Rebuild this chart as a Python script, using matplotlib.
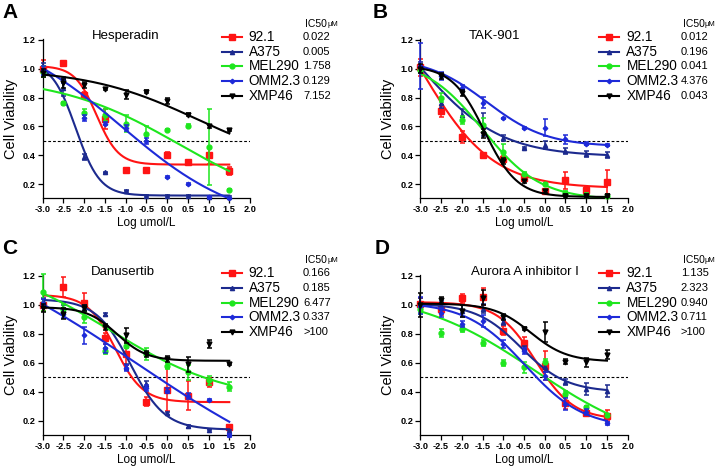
import numpy as np
import matplotlib
matplotlib.use('Agg')
import matplotlib.pyplot as plt

plt.rcParams['font.family'] = ['Liberation Sans', 'DejaVu Sans']

# log concentration (umol/L)
log_dose = [-3.0, -2.5, -2.0, -1.5, -1.0, -0.5, 0.0, 0.5, 1.0, 1.5]
cell_lines = ['92.1', 'A375', 'MEL290', 'OMM2.3', 'XMP46']

# --- Hesperadin ---
hesp_mean = [
    [1.00, 1.04, 0.82, 0.65, 0.30, 0.30, 0.40, 0.35, 0.40, 0.29],
    [1.00, 0.87, 0.385, 0.28, 0.155, 0.12, 0.12, 0.12, 0.11, 0.11],
    [0.98, 0.76, 0.69, 0.68, 0.62, 0.55, 0.575, 0.605, 0.455, 0.16],
    [0.99, 0.92, 0.66, 0.62, 0.59, 0.50, 0.25, 0.20, 0.11, 0.10],
    [0.97, 0.90, 0.89, 0.86, 0.82, 0.84, 0.775, 0.68, 0.60, 0.575],
]
hesp_sd = [
    [0.06, 0.01, 0.02, 0.07, 0.01, 0.01, 0.02, 0.01, 0.06, 0.03],
    [0.04, 0.06, 0.02, 0.005, 0.005, 0.005, 0.005, 0.005, 0.005, 0.005],
    [0.04, 0.01, 0.03, 0.04, 0.06, 0.05, 0.01, 0.01, 0.265, 0.005],
    [0.03, 0.02, 0.02, 0.01, 0.02, 0.02, 0.005, 0.01, 0.005, 0.005],
    [0.03, 0.03, 0.02, 0.01, 0.03, 0.01, 0.02, 0.01, 0.01, 0.01],
]
# top, bottom, logIC50, hill
hesp_fit = [
    [1.02, 0.335, -1.70, 1.65],
    [1.05, 0.12, -2.20, 1.5],
    [0.95, 0.0, 0.296, 0.297],
    [1.30, -0.10, -1.10, 0.30],
    [1.00, 0.30, 0.725, 0.327],
]
hesp_ic50 = ['0.022', '0.005', '1.758', '0.129', '7.152']

# --- TAK-901 ---
tak_mean = [
    [1.01, 0.705, 0.525, 0.40, 0.375, 0.24, 0.155, 0.225, 0.16, 0.215],
    [1.01, 0.76, 0.68, 0.61, 0.52, 0.45, 0.47, 0.43, 0.41, 0.40],
    [0.995, 0.80, 0.645, 0.61, 0.425, 0.27, 0.20, 0.14, 0.125, 0.115],
    [1.02, 0.95, 0.87, 0.765, 0.655, 0.59, 0.59, 0.51, 0.48, 0.47],
    [1.00, 0.95, 0.83, 0.55, 0.36, 0.22, 0.15, 0.12, 0.12, 0.12],
]
tak_sd = [
    [0.06, 0.04, 0.04, 0.005, 0.02, 0.02, 0.005, 0.06, 0.02, 0.085],
    [0.04, 0.03, 0.04, 0.08, 0.02, 0.01, 0.03, 0.02, 0.02, 0.02],
    [0.02, 0.03, 0.03, 0.05, 0.05, 0.01, 0.01, 0.01, 0.01, 0.01],
    [0.16, 0.03, 0.02, 0.04, 0.005, 0.005, 0.06, 0.03, 0.01, 0.005],
    [0.03, 0.02, 0.02, 0.03, 0.02, 0.01, 0.01, 0.01, 0.01, 0.01],
]
tak_fit = [
    [1.83, 0.17, -3.0, 0.5],
    [1.63, 0.39, -3.0, 0.45],
    [1.07, 0.09, -1.5, 0.62],
    [1.08, 0.46, -1.4, 0.6],
    [1.02, 0.11, -1.45, 1.1],
]
tak_ic50 = ['0.012', '0.196', '0.041', '4.376', '0.043']

# --- Danusertib ---
danu_mean = [
    [1.00, 1.125, 1.015, 0.77, 0.665, 0.333, 0.416, 0.375, 0.467, 0.156],
    [1.03, 0.97, 0.98, 0.935, 0.575, 0.455, 0.253, 0.165, 0.14, 0.13],
    [1.087, 0.97, 0.915, 0.68, 0.72, 0.66, 0.58, 0.535, 0.48, 0.437],
    [1.01, 0.94, 0.79, 0.70, 0.565, 0.43, 0.41, 0.37, 0.345, 0.10],
    [0.98, 0.94, 0.98, 0.85, 0.79, 0.66, 0.63, 0.59, 0.73, 0.593],
]
danu_sd = [
    [0.04, 0.07, 0.07, 0.04, 0.08, 0.03, 0.15, 0.10, 0.03, 0.005],
    [0.02, 0.03, 0.02, 0.01, 0.02, 0.02, 0.01, 0.01, 0.005, 0.005],
    [0.13, 0.04, 0.04, 0.02, 0.02, 0.04, 0.02, 0.05, 0.03, 0.03],
    [0.03, 0.03, 0.06, 0.03, 0.02, 0.02, 0.02, 0.02, 0.01, 0.01],
    [0.03, 0.04, 0.02, 0.02, 0.05, 0.02, 0.02, 0.05, 0.03, 0.01],
]
danu_fit = [
    [1.07, 0.33, -1.25, 1.3],
    [1.04, 0.14, -0.88, 1.05],
    [1.33, 0.33, -1.4, 0.3],
    [1.60, -0.40, -0.75, 0.166],
    [0.985, 0.615, -1.21, 1.2],
]
danu_ic50 = ['0.166', '0.185', '6.477', '0.337', '>100']

# --- Aurora A inhibitor I ---
aur_mean = [
    [1.007, 0.97, 1.045, 1.057, 0.823, 0.738, 0.58, 0.322, 0.253, 0.237],
    [1.00, 0.995, 0.96, 0.975, 0.88, 0.70, 0.57, 0.467, 0.42, 0.405],
    [0.97, 0.807, 0.835, 0.738, 0.60, 0.57, 0.61, 0.386, 0.294, 0.24],
    [0.995, 0.946, 0.867, 0.89, 0.73, 0.685, 0.51, 0.318, 0.26, 0.185],
    [1.00, 1.035, 0.96, 1.05, 0.915, 0.835, 0.815, 0.61, 0.605, 0.657],
]
aur_sd = [
    [0.04, 0.04, 0.03, 0.06, 0.03, 0.04, 0.10, 0.04, 0.02, 0.04],
    [0.05, 0.03, 0.04, 0.03, 0.02, 0.02, 0.03, 0.02, 0.04, 0.04],
    [0.03, 0.03, 0.02, 0.02, 0.02, 0.04, 0.02, 0.02, 0.01, 0.01],
    [0.06, 0.03, 0.02, 0.04, 0.03, 0.02, 0.03, 0.04, 0.02, 0.01],
    [0.08, 0.02, 0.04, 0.05, 0.02, 0.01, 0.07, 0.02, 0.03, 0.03],
]
aur_fit = [
    [1.02, 0.21, -0.22, 0.95],
    [1.01, 0.40, -0.566, 0.795],
    [1.10, 0.0, -0.25, 0.3],
    [1.02, 0.15, -0.473, 0.613],
    [1.01, 0.61, -0.34, 0.984],
]
aur_ic50 = ['1.135', '2.323', '0.940', '0.711', '>100']

colors = ['#ff1414', '#1c2a8e', '#1ee61e', '#1e2ad8', '#000000']
markers = ['s', '^', 'o', 'D', 'v']
msizes = [4.2, 3.0, 3.5, 2.3, 3.5]


def logistic(x, top, bottom, logc, hill):
    return bottom + (top - bottom) / (1 + 10 ** ((x - logc) * hill))


def panel(ax, title, title_x, means, sds, fits, ic50):
    x = np.array(log_dose)
    xs = np.linspace(-3.0, 1.5, 300)
    ax.plot([-3.0, 2.0], [0.5, 0.5], color='black', lw=0.8, ls=(0, (2.5, 1.8)), zorder=1)
    for i in [4, 3, 2, 1, 0]:
        ax.plot(xs, logistic(xs, *fits[i]), color=colors[i], lw=1.5, zorder=2 + i)
        ax.errorbar(x, means[i], yerr=sds[i], fmt=markers[i], color=colors[i],
                    ms=msizes[i], elinewidth=1.1, capsize=1.8, capthick=1.1,
                    zorder=2.5 + i, clip_on=False)
    ax.set_xlim(-3.0, 2.0)
    ax.set_ylim(0.1, 1.21)
    ticks = np.arange(-3.0, 2.01, 0.5)
    ax.set_xticks(ticks)
    ax.set_xticklabels([f'{v:.1f}' for v in ticks])
    ax.set_yticks([0.2, 0.4, 0.6, 0.8, 1.0, 1.2])
    ax.set_yticklabels(['0.2', '0.4', '0.6', '0.8', '1.0', '1.2'])
    for lab in ax.get_xticklabels() + ax.get_yticklabels():
        lab.set_fontweight('bold')
        lab.set_fontsize(6.6)
    ax.tick_params(direction='out', length=3.5, width=0.9, pad=1.5)
    for s in ['top', 'right']:
        ax.spines[s].set_visible(False)
    for s in ['left', 'bottom']:
        ax.spines[s].set_linewidth(0.9)
    ax.set_xlabel('Log umol/L', fontsize=8.5)
    ax.set_ylabel('Cell Viability', fontsize=10.5)
    ax.xaxis.set_label_coords(0.5, -0.118)
    ax.yaxis.set_label_coords(-0.12, 0.5)
    ax.text(title_x, 1.228, title, ha='center', va='center', fontsize=9.5)

    # legend with IC50 values
    rows = [1.219, 1.118, 1.016, 0.915, 0.814]
    for i, name in enumerate(cell_lines):
        ax.plot([1.32, 1.80], [rows[i], rows[i]], color=colors[i], lw=1.5, clip_on=False)
        ax.plot([1.56], [rows[i]], marker=markers[i], color=colors[i], ms=msizes[i], clip_on=False)
        ax.text(1.97, rows[i], name, ha='left', va='center', fontsize=9.8)
        ax.text(3.28, rows[i], ic50[i], ha='left', va='center', fontsize=8)
    t = ax.text(3.33, 1.31, 'IC50', ha='left', va='center', fontsize=7.5)
    ax.annotate('\u03bcM', xy=(1, 0.15), xycoords=t, ha='left', va='bottom', fontsize=5.5)


fig = plt.figure(figsize=(7.24, 4.73), dpi=100)
axA = fig.add_axes([0.0590, 0.5805, 0.2863, 0.3380])
axB = fig.add_axes([0.5805, 0.5805, 0.2865, 0.3380])
axC = fig.add_axes([0.0590, 0.0793, 0.2863, 0.3403])
axD = fig.add_axes([0.5805, 0.0793, 0.2865, 0.3403])

panel(axA, 'Hesperadin', -1.0, hesp_mean, hesp_sd, hesp_fit, hesp_ic50)
panel(axB, 'TAK-901', -1.2, tak_mean, tak_sd, tak_fit, tak_ic50)
panel(axC, 'Danusertib', -1.06, danu_mean, danu_sd, danu_fit, danu_ic50)
panel(axD, 'Aurora A inhibitor I', -0.48, aur_mean, aur_sd, aur_fit, aur_ic50)

for letter, px, py in [('A', 10, 12), ('B', 380, 12), ('C', 10, 248), ('D', 382, 248)]:
    fig.text(px / 724, 1 - py / 473, letter, ha='center', va='center',
             fontsize=15, fontweight='bold')

fig.savefig('out.png', dpi=100)
